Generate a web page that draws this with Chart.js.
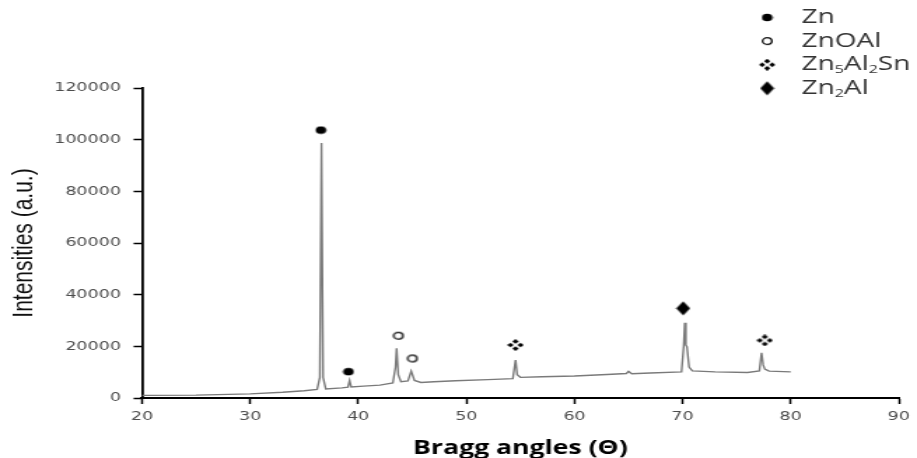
<!DOCTYPE html>
<html><head><meta charset="utf-8">
<script src="https://cdn.jsdelivr.net/npm/chart.js@4"></script>
<style>
html,body{margin:0;padding:0;background:#fff;overflow:hidden;}
#wrap{width:917px;height:458px;overflow:hidden;}
canvas{transform:scaleX(1.4);transform-origin:0 0;display:block;}
</style></head><body><div id="wrap"><canvas id="c" width="655" height="458"></canvas></div>
<script>
// ---- data ----
const angles = [20,25,30,33,35,36.2,36.45,36.6,36.75,37.0,38.5,39.05,39.2,39.35,40.5,42,43.2,43.45,43.55,43.7,43.95,44.6,44.9,45.2,45.8,47,49,52,54.3,54.55,54.7,55,57,60,63,64.8,65.0,65.3,67,69.9,70.1,70.2,70.3,70.4,70.6,70.9,73,76,77.1,77.3,77.45,77.6,78,80];
const intensities = [1000,1100,1600,2200,2800,3300,8000,98700,8000,3500,3900,4200,6800,4300,4600,5000,5800,12000,19200,9000,6300,6600,10400,6800,6000,6300,6700,7100,7500,14700,9000,8000,8200,8500,9100,9500,10300,9400,9700,10100,20000,29100,20500,19900,12000,10500,10100,9900,10500,17500,12800,11200,10400,10100];

const phaseNames = ["Zn","ZnOAl","Zn\u2085Al\u2082Sn","Zn\u2082Al"];
const znAngles = [36.55,39.1];        const znHeights = [103700,10200];
const znoalAngles = [43.7,45.0];      const znoalHeights = [24100,15300];
const zn5Angles = [54.55,77.6];       const zn5Heights = [20500,22300];
const zn2Angles = [70.05];            const zn2Heights = [34700];

const xTickValues = [20,30,40,50,60,70,80,90];
const yTickValues = [0,20000,40000,60000,80000,100000,120000];

const xTitle = "Bragg angles (\u0398)";
const yTitle = "Intensities (a.u.)";

// ---- marker images ----
function makeMarker(w,h,draw){const c=document.createElement('canvas');c.width=w;c.height=h;const g=c.getContext('2d');g.fillStyle='#000';g.strokeStyle='#000';draw(g,w,h);return c;}
const mDot = makeMarker(9,9,(g)=>{g.beginPath();g.arc(4.5,4.5,3.8,0,Math.PI*2);g.fill();});
const mOpen = makeMarker(10,10,(g)=>{g.lineWidth=1.3;g.beginPath();g.arc(5,5,3.3,0,Math.PI*2);g.stroke();});
const mFour = makeMarker(12,12,(g)=>{
  const pts=[[6,2.4],[6,9.6],[2.4,6],[9.6,6]];
  pts.forEach(([x,y])=>{g.beginPath();g.moveTo(x,y-2.3);g.lineTo(x+2.3,y);g.lineTo(x,y+2.3);g.lineTo(x-2.3,y);g.closePath();g.fill();});
});
const mDiamond = makeMarker(11,15,(g)=>{g.beginPath();g.moveTo(5.5,0.5);g.lineTo(10.5,7.5);g.lineTo(5.5,14.5);g.lineTo(0.5,7.5);g.closePath();g.fill();});
const phaseMarkers = [mDot,mOpen,mFour,mDiamond];

const toXY=(xs,ys)=>xs.map((x,i)=>({x:x,y:ys[i]}));

const markerSets = [
  [znAngles,znHeights],[znoalAngles,znoalHeights],[zn5Angles,zn5Heights],[zn2Angles,zn2Heights]
].map((p,i)=>({
  label: phaseNames[i], data: toXY(p[0],p[1]), showLine:false,
  pointStyle: phaseMarkers[i], pointRadius:5, clip:false, isPhase:true
}));

// ---- legend drawn with subscripts ----
const SUBS = "\u2080\u2081\u2082\u2083\u2084\u2085\u2086\u2087\u2088\u2089";
function drawSubText(ctx,text,x,y){
  ctx.textBaseline='middle';ctx.textAlign='left';
  for(const ch of text){
    const si = SUBS.indexOf(ch);
    if(si>=0){ctx.font='11.5px "Open Sans"';ctx.fillText(String(si),x,y+5);x+=ctx.measureText(String(si)).width;}
    else{ctx.font='20px "Open Sans"';ctx.fillText(ch,x,y);x+=ctx.measureText(ch).width;}
  }
}
const phaseLegend = {
  id:'phaseLegend',
  afterDraw(chart){
    const ctx=chart.ctx; ctx.save();
    const items = chart.data.datasets.filter(d=>d.isPhase);
    const x0=548, tx=572.5, y0=17.5, dy=23.6;
    items.forEach((ds,i)=>{
      const y=y0+i*dy; const img=ds.pointStyle;
      ctx.drawImage(img, x0-img.width/2, y-img.height/2);
      ctx.fillStyle='#333';
      drawSubText(ctx, ds.label, tx, y);
    });
    ctx.restore();
  }
};

new Chart(document.getElementById('c'),{
  type:'scatter',
  data:{datasets:[
    {label:'XRD', data:toXY(angles,intensities), showLine:true, borderColor:'#7a7a7a', borderWidth:1.4, pointRadius:0, tension:0},
    ...markerSets
  ]},
  options:{
    responsive:false, animation:false, events:[],
    layout:{padding:{left:0,right:8,top:88,bottom:0}},
    plugins:{legend:{display:false},tooltip:{enabled:false}},
    scales:{
      x:{type:'linear',min:20,max:90,
        afterBuildTicks:(s)=>{s.ticks=xTickValues.map(v=>({value:v}));},
        afterFit:(s)=>{s.height=60;},
        border:{display:true,color:'#000',width:2},
        grid:{display:true,drawOnChartArea:false,drawTicks:true,tickLength:6,color:'#000',tickWidth:1.5},
        ticks:{color:'#4d4d4d',font:{family:'"DejaVu Sans"',size:12.5},padding:5,maxRotation:0,callback:(v)=>String(v)},
        title:{display:true,text:xTitle,color:'#000',font:{family:'"Open Sans"',size:19,weight:'bold',lineHeight:1.0},padding:{top:0,bottom:0}}
      },
      y:{type:'linear',min:0,max:120000,
        afterBuildTicks:(s)=>{s.ticks=yTickValues.map(v=>({value:v}));},
        afterFit:(s)=>{s.width=101.4;},
        border:{display:true,color:'#000',width:1.8},
        grid:{display:true,drawOnChartArea:false,drawTicks:true,tickLength:6,color:'#000',tickWidth:1.5},
        ticks:{color:'#4d4d4d',font:{family:'"DejaVu Sans"',size:12.5},padding:9,callback:(v)=>String(v)},
        title:{display:true,text:yTitle,color:'#111',font:{family:'"Liberation Sans"',size:21},padding:{top:5,bottom:0}}
      }
    }
  },
  plugins:[phaseLegend]
});
</script></body></html>
